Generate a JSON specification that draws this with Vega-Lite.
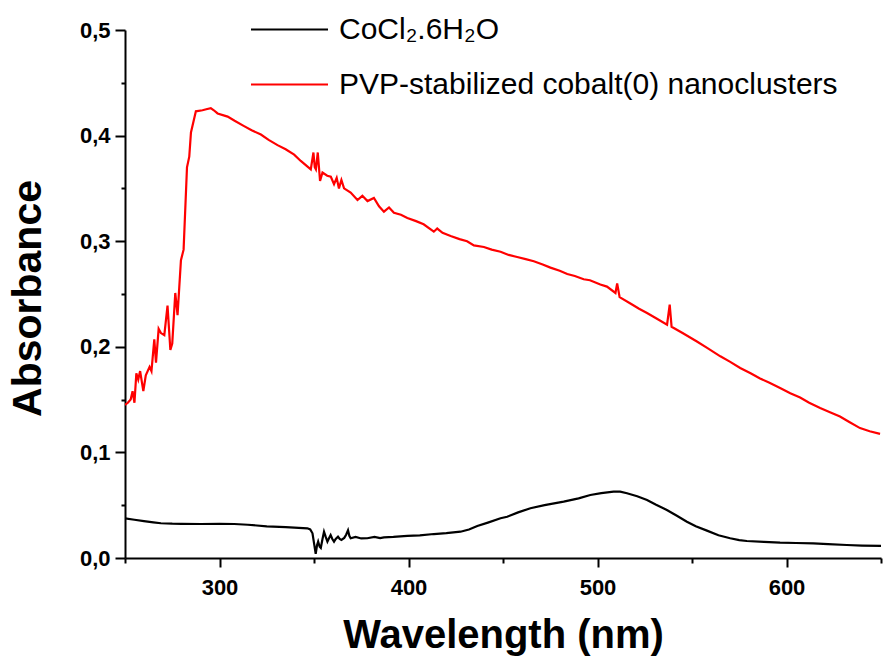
{
  "$schema": "https://vega.github.io/schema/vega-lite/v6.json",
  "width": 756,
  "height": 528,
  "autosize": {"type": "none"},
  "padding": {"left": 125, "top": 30, "right": 14, "bottom": 100},
  "background": "white",
  "config": {
    "view": {"stroke": null},
    "font": "Liberation Sans",
    "axis": {"grid": false, "domainColor": "black", "domainWidth": 2, "tickColor": "black", "tickWidth": 2, "labelColor": "black", "titleColor": "black"}
  },
  "datasets": {
    "spec": [
      {"w": 250, "a": 0.0376, "s": "CoCl₂.6H₂O"},
      {"w": 255, "a": 0.0362, "s": "CoCl₂.6H₂O"},
      {"w": 260, "a": 0.035, "s": "CoCl₂.6H₂O"},
      {"w": 265, "a": 0.0338, "s": "CoCl₂.6H₂O"},
      {"w": 269, "a": 0.0329, "s": "CoCl₂.6H₂O"},
      {"w": 275, "a": 0.0325, "s": "CoCl₂.6H₂O"},
      {"w": 280, "a": 0.0324, "s": "CoCl₂.6H₂O"},
      {"w": 290, "a": 0.0322, "s": "CoCl₂.6H₂O"},
      {"w": 300, "a": 0.0323, "s": "CoCl₂.6H₂O"},
      {"w": 307.8, "a": 0.0322, "s": "CoCl₂.6H₂O"},
      {"w": 315, "a": 0.0315, "s": "CoCl₂.6H₂O"},
      {"w": 325, "a": 0.03, "s": "CoCl₂.6H₂O"},
      {"w": 335, "a": 0.0292, "s": "CoCl₂.6H₂O"},
      {"w": 346.5, "a": 0.0281, "s": "CoCl₂.6H₂O"},
      {"w": 348, "a": 0.027, "s": "CoCl₂.6H₂O"},
      {"w": 349.2, "a": 0.0234, "s": "CoCl₂.6H₂O"},
      {"w": 350.2, "a": 0.012, "s": "CoCl₂.6H₂O"},
      {"w": 350.9, "a": 0.004, "s": "CoCl₂.6H₂O"},
      {"w": 351.6, "a": 0.012, "s": "CoCl₂.6H₂O"},
      {"w": 352.2, "a": 0.0155, "s": "CoCl₂.6H₂O"},
      {"w": 353, "a": 0.0107, "s": "CoCl₂.6H₂O"},
      {"w": 353.6, "a": 0.0095, "s": "CoCl₂.6H₂O"},
      {"w": 354.5, "a": 0.018, "s": "CoCl₂.6H₂O"},
      {"w": 355.3, "a": 0.0249, "s": "CoCl₂.6H₂O"},
      {"w": 356.2, "a": 0.02, "s": "CoCl₂.6H₂O"},
      {"w": 357.1, "a": 0.0155, "s": "CoCl₂.6H₂O"},
      {"w": 358, "a": 0.019, "s": "CoCl₂.6H₂O"},
      {"w": 358.8, "a": 0.0218, "s": "CoCl₂.6H₂O"},
      {"w": 359.7, "a": 0.018, "s": "CoCl₂.6H₂O"},
      {"w": 360.6, "a": 0.0155, "s": "CoCl₂.6H₂O"},
      {"w": 361.5, "a": 0.018, "s": "CoCl₂.6H₂O"},
      {"w": 362.7, "a": 0.0202, "s": "CoCl₂.6H₂O"},
      {"w": 363.6, "a": 0.018, "s": "CoCl₂.6H₂O"},
      {"w": 364.5, "a": 0.0171, "s": "CoCl₂.6H₂O"},
      {"w": 366, "a": 0.019, "s": "CoCl₂.6H₂O"},
      {"w": 367, "a": 0.022, "s": "CoCl₂.6H₂O"},
      {"w": 368, "a": 0.0262, "s": "CoCl₂.6H₂O"},
      {"w": 368.7, "a": 0.021, "s": "CoCl₂.6H₂O"},
      {"w": 369.4, "a": 0.0187, "s": "CoCl₂.6H₂O"},
      {"w": 372, "a": 0.02, "s": "CoCl₂.6H₂O"},
      {"w": 375, "a": 0.0185, "s": "CoCl₂.6H₂O"},
      {"w": 378.2, "a": 0.0187, "s": "CoCl₂.6H₂O"},
      {"w": 382, "a": 0.02, "s": "CoCl₂.6H₂O"},
      {"w": 385, "a": 0.0188, "s": "CoCl₂.6H₂O"},
      {"w": 387, "a": 0.0196, "s": "CoCl₂.6H₂O"},
      {"w": 392, "a": 0.02, "s": "CoCl₂.6H₂O"},
      {"w": 399.4, "a": 0.0209, "s": "CoCl₂.6H₂O"},
      {"w": 406, "a": 0.0215, "s": "CoCl₂.6H₂O"},
      {"w": 413.4, "a": 0.0227, "s": "CoCl₂.6H₂O"},
      {"w": 420, "a": 0.0235, "s": "CoCl₂.6H₂O"},
      {"w": 427.5, "a": 0.0249, "s": "CoCl₂.6H₂O"},
      {"w": 432, "a": 0.027, "s": "CoCl₂.6H₂O"},
      {"w": 436.4, "a": 0.0303, "s": "CoCl₂.6H₂O"},
      {"w": 442, "a": 0.0335, "s": "CoCl₂.6H₂O"},
      {"w": 448.7, "a": 0.0376, "s": "CoCl₂.6H₂O"},
      {"w": 452.2, "a": 0.0391, "s": "CoCl₂.6H₂O"},
      {"w": 458, "a": 0.0432, "s": "CoCl₂.6H₂O"},
      {"w": 464.5, "a": 0.0471, "s": "CoCl₂.6H₂O"},
      {"w": 472, "a": 0.05, "s": "CoCl₂.6H₂O"},
      {"w": 482.1, "a": 0.0534, "s": "CoCl₂.6H₂O"},
      {"w": 490, "a": 0.0565, "s": "CoCl₂.6H₂O"},
      {"w": 496.2, "a": 0.0597, "s": "CoCl₂.6H₂O"},
      {"w": 502, "a": 0.0615, "s": "CoCl₂.6H₂O"},
      {"w": 508.5, "a": 0.0628, "s": "CoCl₂.6H₂O"},
      {"w": 512, "a": 0.0628, "s": "CoCl₂.6H₂O"},
      {"w": 515.6, "a": 0.0613, "s": "CoCl₂.6H₂O"},
      {"w": 521, "a": 0.0585, "s": "CoCl₂.6H₂O"},
      {"w": 526.2, "a": 0.055, "s": "CoCl₂.6H₂O"},
      {"w": 531, "a": 0.0505, "s": "CoCl₂.6H₂O"},
      {"w": 536.7, "a": 0.0455, "s": "CoCl₂.6H₂O"},
      {"w": 542, "a": 0.04, "s": "CoCl₂.6H₂O"},
      {"w": 547.3, "a": 0.0344, "s": "CoCl₂.6H₂O"},
      {"w": 552, "a": 0.03, "s": "CoCl₂.6H₂O"},
      {"w": 557.9, "a": 0.0259, "s": "CoCl₂.6H₂O"},
      {"w": 564, "a": 0.0215, "s": "CoCl₂.6H₂O"},
      {"w": 570.2, "a": 0.0187, "s": "CoCl₂.6H₂O"},
      {"w": 575, "a": 0.017, "s": "CoCl₂.6H₂O"},
      {"w": 579, "a": 0.0161, "s": "CoCl₂.6H₂O"},
      {"w": 588, "a": 0.0152, "s": "CoCl₂.6H₂O"},
      {"w": 596.6, "a": 0.0145, "s": "CoCl₂.6H₂O"},
      {"w": 605, "a": 0.0142, "s": "CoCl₂.6H₂O"},
      {"w": 614.2, "a": 0.0139, "s": "CoCl₂.6H₂O"},
      {"w": 622, "a": 0.0132, "s": "CoCl₂.6H₂O"},
      {"w": 631.9, "a": 0.0123, "s": "CoCl₂.6H₂O"},
      {"w": 640, "a": 0.0118, "s": "CoCl₂.6H₂O"},
      {"w": 650, "a": 0.0114, "s": "CoCl₂.6H₂O"},
      {"w": 250, "a": 0.145, "s": "PVP-stabilized cobalt(0) nanoclusters"},
      {"w": 251.5, "a": 0.147, "s": "PVP-stabilized cobalt(0) nanoclusters"},
      {"w": 253, "a": 0.15, "s": "PVP-stabilized cobalt(0) nanoclusters"},
      {"w": 254, "a": 0.158, "s": "PVP-stabilized cobalt(0) nanoclusters"},
      {"w": 255, "a": 0.147, "s": "PVP-stabilized cobalt(0) nanoclusters"},
      {"w": 256, "a": 0.175, "s": "PVP-stabilized cobalt(0) nanoclusters"},
      {"w": 257, "a": 0.169, "s": "PVP-stabilized cobalt(0) nanoclusters"},
      {"w": 258, "a": 0.177, "s": "PVP-stabilized cobalt(0) nanoclusters"},
      {"w": 259.7, "a": 0.158, "s": "PVP-stabilized cobalt(0) nanoclusters"},
      {"w": 261, "a": 0.173, "s": "PVP-stabilized cobalt(0) nanoclusters"},
      {"w": 263, "a": 0.181, "s": "PVP-stabilized cobalt(0) nanoclusters"},
      {"w": 264, "a": 0.177, "s": "PVP-stabilized cobalt(0) nanoclusters"},
      {"w": 265.5, "a": 0.207, "s": "PVP-stabilized cobalt(0) nanoclusters"},
      {"w": 266.4, "a": 0.185, "s": "PVP-stabilized cobalt(0) nanoclusters"},
      {"w": 267.8, "a": 0.217, "s": "PVP-stabilized cobalt(0) nanoclusters"},
      {"w": 269, "a": 0.213, "s": "PVP-stabilized cobalt(0) nanoclusters"},
      {"w": 270.8, "a": 0.211, "s": "PVP-stabilized cobalt(0) nanoclusters"},
      {"w": 272.5, "a": 0.239, "s": "PVP-stabilized cobalt(0) nanoclusters"},
      {"w": 274, "a": 0.197, "s": "PVP-stabilized cobalt(0) nanoclusters"},
      {"w": 275, "a": 0.203, "s": "PVP-stabilized cobalt(0) nanoclusters"},
      {"w": 276.6, "a": 0.251, "s": "PVP-stabilized cobalt(0) nanoclusters"},
      {"w": 277.8, "a": 0.23, "s": "PVP-stabilized cobalt(0) nanoclusters"},
      {"w": 279.6, "a": 0.282, "s": "PVP-stabilized cobalt(0) nanoclusters"},
      {"w": 281, "a": 0.292, "s": "PVP-stabilized cobalt(0) nanoclusters"},
      {"w": 282.8, "a": 0.37, "s": "PVP-stabilized cobalt(0) nanoclusters"},
      {"w": 284, "a": 0.38, "s": "PVP-stabilized cobalt(0) nanoclusters"},
      {"w": 284.9, "a": 0.403, "s": "PVP-stabilized cobalt(0) nanoclusters"},
      {"w": 287.5, "a": 0.423, "s": "PVP-stabilized cobalt(0) nanoclusters"},
      {"w": 291, "a": 0.424, "s": "PVP-stabilized cobalt(0) nanoclusters"},
      {"w": 293, "a": 0.425, "s": "PVP-stabilized cobalt(0) nanoclusters"},
      {"w": 295.4, "a": 0.426, "s": "PVP-stabilized cobalt(0) nanoclusters"},
      {"w": 297, "a": 0.424, "s": "PVP-stabilized cobalt(0) nanoclusters"},
      {"w": 299, "a": 0.421, "s": "PVP-stabilized cobalt(0) nanoclusters"},
      {"w": 304.3, "a": 0.418, "s": "PVP-stabilized cobalt(0) nanoclusters"},
      {"w": 308, "a": 0.414, "s": "PVP-stabilized cobalt(0) nanoclusters"},
      {"w": 313, "a": 0.409, "s": "PVP-stabilized cobalt(0) nanoclusters"},
      {"w": 317, "a": 0.405, "s": "PVP-stabilized cobalt(0) nanoclusters"},
      {"w": 321.9, "a": 0.401, "s": "PVP-stabilized cobalt(0) nanoclusters"},
      {"w": 326, "a": 0.396, "s": "PVP-stabilized cobalt(0) nanoclusters"},
      {"w": 330.7, "a": 0.391, "s": "PVP-stabilized cobalt(0) nanoclusters"},
      {"w": 335, "a": 0.387, "s": "PVP-stabilized cobalt(0) nanoclusters"},
      {"w": 339.5, "a": 0.382, "s": "PVP-stabilized cobalt(0) nanoclusters"},
      {"w": 343, "a": 0.376, "s": "PVP-stabilized cobalt(0) nanoclusters"},
      {"w": 348.3, "a": 0.368, "s": "PVP-stabilized cobalt(0) nanoclusters"},
      {"w": 349.7, "a": 0.384, "s": "PVP-stabilized cobalt(0) nanoclusters"},
      {"w": 350.4, "a": 0.37, "s": "PVP-stabilized cobalt(0) nanoclusters"},
      {"w": 351, "a": 0.368, "s": "PVP-stabilized cobalt(0) nanoclusters"},
      {"w": 352, "a": 0.384, "s": "PVP-stabilized cobalt(0) nanoclusters"},
      {"w": 353.2, "a": 0.357, "s": "PVP-stabilized cobalt(0) nanoclusters"},
      {"w": 354.5, "a": 0.365, "s": "PVP-stabilized cobalt(0) nanoclusters"},
      {"w": 357, "a": 0.362, "s": "PVP-stabilized cobalt(0) nanoclusters"},
      {"w": 358.9, "a": 0.361, "s": "PVP-stabilized cobalt(0) nanoclusters"},
      {"w": 360.6, "a": 0.354, "s": "PVP-stabilized cobalt(0) nanoclusters"},
      {"w": 362, "a": 0.36, "s": "PVP-stabilized cobalt(0) nanoclusters"},
      {"w": 363.2, "a": 0.35, "s": "PVP-stabilized cobalt(0) nanoclusters"},
      {"w": 364.5, "a": 0.358, "s": "PVP-stabilized cobalt(0) nanoclusters"},
      {"w": 365.9, "a": 0.35, "s": "PVP-stabilized cobalt(0) nanoclusters"},
      {"w": 369.4, "a": 0.346, "s": "PVP-stabilized cobalt(0) nanoclusters"},
      {"w": 373, "a": 0.339, "s": "PVP-stabilized cobalt(0) nanoclusters"},
      {"w": 375.6, "a": 0.343, "s": "PVP-stabilized cobalt(0) nanoclusters"},
      {"w": 378.3, "a": 0.338, "s": "PVP-stabilized cobalt(0) nanoclusters"},
      {"w": 381.7, "a": 0.341, "s": "PVP-stabilized cobalt(0) nanoclusters"},
      {"w": 384.4, "a": 0.333, "s": "PVP-stabilized cobalt(0) nanoclusters"},
      {"w": 387, "a": 0.328, "s": "PVP-stabilized cobalt(0) nanoclusters"},
      {"w": 389.7, "a": 0.332, "s": "PVP-stabilized cobalt(0) nanoclusters"},
      {"w": 392.3, "a": 0.327, "s": "PVP-stabilized cobalt(0) nanoclusters"},
      {"w": 396, "a": 0.325, "s": "PVP-stabilized cobalt(0) nanoclusters"},
      {"w": 399.4, "a": 0.322, "s": "PVP-stabilized cobalt(0) nanoclusters"},
      {"w": 404, "a": 0.319, "s": "PVP-stabilized cobalt(0) nanoclusters"},
      {"w": 408, "a": 0.316, "s": "PVP-stabilized cobalt(0) nanoclusters"},
      {"w": 413.4, "a": 0.309, "s": "PVP-stabilized cobalt(0) nanoclusters"},
      {"w": 415.2, "a": 0.312, "s": "PVP-stabilized cobalt(0) nanoclusters"},
      {"w": 418, "a": 0.308, "s": "PVP-stabilized cobalt(0) nanoclusters"},
      {"w": 422.3, "a": 0.305, "s": "PVP-stabilized cobalt(0) nanoclusters"},
      {"w": 427, "a": 0.302, "s": "PVP-stabilized cobalt(0) nanoclusters"},
      {"w": 431, "a": 0.3, "s": "PVP-stabilized cobalt(0) nanoclusters"},
      {"w": 434.6, "a": 0.296, "s": "PVP-stabilized cobalt(0) nanoclusters"},
      {"w": 439.9, "a": 0.2945, "s": "PVP-stabilized cobalt(0) nanoclusters"},
      {"w": 444, "a": 0.292, "s": "PVP-stabilized cobalt(0) nanoclusters"},
      {"w": 448.7, "a": 0.29, "s": "PVP-stabilized cobalt(0) nanoclusters"},
      {"w": 453, "a": 0.287, "s": "PVP-stabilized cobalt(0) nanoclusters"},
      {"w": 457.5, "a": 0.285, "s": "PVP-stabilized cobalt(0) nanoclusters"},
      {"w": 462, "a": 0.283, "s": "PVP-stabilized cobalt(0) nanoclusters"},
      {"w": 466.3, "a": 0.281, "s": "PVP-stabilized cobalt(0) nanoclusters"},
      {"w": 471, "a": 0.278, "s": "PVP-stabilized cobalt(0) nanoclusters"},
      {"w": 475.1, "a": 0.275, "s": "PVP-stabilized cobalt(0) nanoclusters"},
      {"w": 480, "a": 0.272, "s": "PVP-stabilized cobalt(0) nanoclusters"},
      {"w": 484, "a": 0.269, "s": "PVP-stabilized cobalt(0) nanoclusters"},
      {"w": 488, "a": 0.267, "s": "PVP-stabilized cobalt(0) nanoclusters"},
      {"w": 492.7, "a": 0.264, "s": "PVP-stabilized cobalt(0) nanoclusters"},
      {"w": 496, "a": 0.263, "s": "PVP-stabilized cobalt(0) nanoclusters"},
      {"w": 501.5, "a": 0.259, "s": "PVP-stabilized cobalt(0) nanoclusters"},
      {"w": 505, "a": 0.257, "s": "PVP-stabilized cobalt(0) nanoclusters"},
      {"w": 509.5, "a": 0.251, "s": "PVP-stabilized cobalt(0) nanoclusters"},
      {"w": 510.4, "a": 0.26, "s": "PVP-stabilized cobalt(0) nanoclusters"},
      {"w": 511.7, "a": 0.247, "s": "PVP-stabilized cobalt(0) nanoclusters"},
      {"w": 517.4, "a": 0.241, "s": "PVP-stabilized cobalt(0) nanoclusters"},
      {"w": 522, "a": 0.236, "s": "PVP-stabilized cobalt(0) nanoclusters"},
      {"w": 526.2, "a": 0.232, "s": "PVP-stabilized cobalt(0) nanoclusters"},
      {"w": 531, "a": 0.227, "s": "PVP-stabilized cobalt(0) nanoclusters"},
      {"w": 536.8, "a": 0.221, "s": "PVP-stabilized cobalt(0) nanoclusters"},
      {"w": 538.2, "a": 0.24, "s": "PVP-stabilized cobalt(0) nanoclusters"},
      {"w": 539.2, "a": 0.219, "s": "PVP-stabilized cobalt(0) nanoclusters"},
      {"w": 545, "a": 0.213, "s": "PVP-stabilized cobalt(0) nanoclusters"},
      {"w": 552.6, "a": 0.205, "s": "PVP-stabilized cobalt(0) nanoclusters"},
      {"w": 558, "a": 0.199, "s": "PVP-stabilized cobalt(0) nanoclusters"},
      {"w": 565, "a": 0.191, "s": "PVP-stabilized cobalt(0) nanoclusters"},
      {"w": 570, "a": 0.186, "s": "PVP-stabilized cobalt(0) nanoclusters"},
      {"w": 575.5, "a": 0.18, "s": "PVP-stabilized cobalt(0) nanoclusters"},
      {"w": 581, "a": 0.175, "s": "PVP-stabilized cobalt(0) nanoclusters"},
      {"w": 586, "a": 0.17, "s": "PVP-stabilized cobalt(0) nanoclusters"},
      {"w": 591, "a": 0.166, "s": "PVP-stabilized cobalt(0) nanoclusters"},
      {"w": 596.6, "a": 0.161, "s": "PVP-stabilized cobalt(0) nanoclusters"},
      {"w": 602, "a": 0.156, "s": "PVP-stabilized cobalt(0) nanoclusters"},
      {"w": 607.2, "a": 0.152, "s": "PVP-stabilized cobalt(0) nanoclusters"},
      {"w": 612, "a": 0.147, "s": "PVP-stabilized cobalt(0) nanoclusters"},
      {"w": 617.8, "a": 0.142, "s": "PVP-stabilized cobalt(0) nanoclusters"},
      {"w": 623, "a": 0.138, "s": "PVP-stabilized cobalt(0) nanoclusters"},
      {"w": 628.3, "a": 0.134, "s": "PVP-stabilized cobalt(0) nanoclusters"},
      {"w": 633, "a": 0.129, "s": "PVP-stabilized cobalt(0) nanoclusters"},
      {"w": 638.9, "a": 0.123, "s": "PVP-stabilized cobalt(0) nanoclusters"},
      {"w": 644, "a": 0.12, "s": "PVP-stabilized cobalt(0) nanoclusters"},
      {"w": 649.5, "a": 0.1175, "s": "PVP-stabilized cobalt(0) nanoclusters"}
    ]
  },
  "data": {"name": "spec"},
  "layer": [
    {
      "mark": {"type": "line", "strokeWidth": 2.2, "clip": true},
      "encoding": {
        "x": {
          "field": "w", "type": "quantitative",
          "scale": {"domain": [250, 650], "nice": false, "zero": false},
          "axis": {
            "orient": "bottom",
            "title": "Wavelength (nm)",
            "values": [300, 400, 500, 600],
            "tickSize": 9,
            "labelFont": "Liberation Sans", "labelFontWeight": "bold", "labelFontSize": 22,
            "labelBaseline": "alphabetic", "labelPadding": 27,
            "titleFont": "Liberation Sans", "titleFontWeight": "bold", "titleFontSize": 40,
            "titleBaseline": "alphabetic", "titleY": 89
          }
        },
        "y": {
          "field": "a", "type": "quantitative",
          "scale": {"domain": [0, 0.5], "nice": false},
          "axis": {
            "orient": "left",
            "title": "Absorbance",
            "values": [0, 0.1, 0.2, 0.3, 0.4, 0.5],
            "format": ".1f",
            "labelExpr": "replace(datum.label, '.', ',')",
            "tickSize": 10,
            "labelFont": "Liberation Sans", "labelFontWeight": "bold", "labelFontSize": 22,
            "labelPadding": 5,
            "titleFont": "Liberation Sans", "titleFontWeight": "bold", "titleFontSize": 41,
            "titleBaseline": "middle", "titleAlign": "center", "titleX": -97, "titleY": 268
          }
        },
        "color": {
          "field": "s", "type": "nominal",
          "scale": {"domain": ["CoCl₂.6H₂O", "PVP-stabilized cobalt(0) nanoclusters"], "range": ["#000000", "#ff0000"]},
          "legend": {
            "orient": "none", "legendX": 125, "legendY": -40,
            "title": null, "symbolType": "stroke", "symbolSize": 5929, "symbolStrokeWidth": 2,
            "labelFont": "Liberation Sans", "labelFontSize": 30, "labelColor": "black",
            "labelOffset": 10, "rowPadding": -5, "padding": 0, "labelLimit": 700
          }
        }
      }
    },
    {
      "mark": {"type": "line", "opacity": 0},
      "encoding": {
        "x": {
          "field": "w", "type": "quantitative",
          "axis": {"orient": "bottom", "values": [250, 350, 450, 550, 650], "tickSize": 5, "labels": false, "domain": false, "title": null}
        },
        "y": {
          "field": "a", "type": "quantitative",
          "axis": {"orient": "left", "values": [0.05, 0.15, 0.25, 0.35, 0.45], "tickSize": 4, "labels": false, "domain": false, "title": null}
        },
        "detail": {"field": "s"}
      }
    }
  ],
  "resolve": {"axis": {"x": "independent", "y": "independent"}}
}
